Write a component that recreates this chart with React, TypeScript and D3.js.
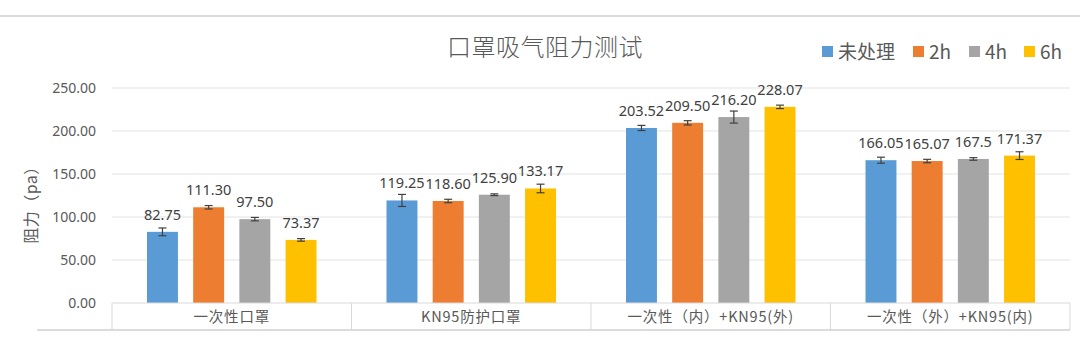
import React from "react";
import * as d3 from "d3";

const categories = ["一次性口罩", "KN95防护口罩", "一次性（内）+KN95(外)", "一次性（外）+KN95(内)"];
const seriesNames = ["未处理", "2h", "4h", "6h"];
const seriesColors = ["#5B9BD5", "#ED7D31", "#A5A5A5", "#FFC000"];
const valuesUntreated = [82.75, 119.25, 203.52, 166.05];
const values2h = [111.3, 118.6, 209.5, 165.07];
const values4h = [97.5, 125.9, 216.2, 167.5];
const values6h = [73.37, 133.17, 228.07, 171.37];
const labelsUntreated = ["82.75", "119.25", "203.52", "166.05"];
const labels2h = ["111.30", "118.60", "209.50", "165.07"];
const labels4h = ["97.50", "125.90", "216.20", "167.5"];
const labels6h = ["73.37", "133.17", "228.07", "171.37"];
const errUntreated = [4.5, 7, 3, 3.5];
const err2h = [2, 2, 2.5, 2];
const err4h = [2, 1, 7, 1.5];
const err6h = [1.5, 5, 2, 4.5];
const yTicks = [0, 50, 100, 150, 200, 250];

const series = [
  { values: valuesUntreated, labels: labelsUntreated, errs: errUntreated },
  { values: values2h, labels: labels2h, errs: err2h },
  { values: values4h, labels: labels4h, errs: err4h },
  { values: values6h, labels: labels6h, errs: err6h },
];

const FONT = "'Noto Sans', 'Noto Sans CJK SC', sans-serif";
const CJK = "'Noto Sans CJK SC', 'Noto Sans', sans-serif";

export default function App() {
  const W = 1080, H = 355;
  const left = 112, right = 1070, top = 88, bottom = 303;
  const x0 = d3.scaleBand<string>().domain(categories).range([left, right]).paddingInner(0).paddingOuter(0);
  const x1 = d3.scaleBand<number>().domain([0, 1, 2, 3]).range([35, x0.bandwidth() - 35]).paddingInner(0.33).paddingOuter(0);
  const y = d3.scaleLinear().domain([0, 250]).range([bottom, top]);
  const legendX = [822, 913, 969, 1024];

  return (
    <svg width={W} height={H} style={{ position: "absolute", left: 0, top: 0, background: "#fff" }}>
      <rect x={0} y={0} width={W} height={H} fill="#fff" />
      <line x1={0} x2={W} y1={16} y2={16} stroke="#D0D0D0" strokeWidth={1.5} />
      <text x={545} y={56} textAnchor="middle" fontFamily={CJK} fontSize={24} fontWeight={300} fill="#595959" letterSpacing={0.5}>口罩吸气阻力测试</text>
      {seriesNames.map((s, i) => (
        <g key={s}>
          <rect x={legendX[i]} y={46} width={11} height={11} fill={seriesColors[i]} />
          <text x={legendX[i] + 16} y={58.5} fontFamily={CJK} fontSize={19} fill="#595959">{s}</text>
        </g>
      ))}
      {yTicks.map((t) => (
        <g key={t}>
          {t > 0 && <line x1={left} x2={right} y1={y(t)} y2={y(t)} stroke="#E3E3E3" strokeWidth={1} />}
          <text x={96} y={y(t) + 5} textAnchor="end" fontFamily={FONT} fontSize={14} fill="#595959">{t.toFixed(2)}</text>
        </g>
      ))}
      <text transform="translate(37,201) rotate(-90)" textAnchor="middle" fontFamily={CJK} fontSize={16} fill="#595959" letterSpacing={0.5}>阻力（pa）</text>
      {categories.map((c, ci) => (
        <g key={c} transform={`translate(${x0(c)},0)`}>
          {series.map((s, si) => {
            const bx = x1(si)!;
            const bw = x1.bandwidth();
            const v = s.values[ci];
            const e = s.errs[ci];
            const cx = bx + bw / 2;
            return (
              <g key={si}>
                <rect x={bx} y={y(v)} width={bw} height={bottom - y(v)} fill={seriesColors[si]} />
                <line x1={cx} x2={cx} y1={y(v + e)} y2={y(v - e)} stroke="#404040" strokeWidth={1.2} />
                <line x1={cx - 4} x2={cx + 4} y1={y(v + e)} y2={y(v + e)} stroke="#404040" strokeWidth={1.2} />
                <line x1={cx - 4} x2={cx + 4} y1={y(v - e)} y2={y(v - e)} stroke="#404040" strokeWidth={1.2} />
                <text x={cx} y={y(v) - 12} textAnchor="middle" fontFamily={FONT} fontSize={14.5} fill="#404040">{s.labels[ci]}</text>
              </g>
            );
          })}
          <text x={x0.bandwidth() / 2} y={322} textAnchor="middle" fontFamily={CJK} fontSize={14.5} fill="#595959" letterSpacing={0.8}>{c}</text>
        </g>
      ))}
      <line x1={left} x2={right} y1={bottom} y2={bottom} stroke="#D9D9D9" strokeWidth={1} />
      {[...categories.map((c) => x0(c)!), right].map((xv, i) => (
        <line key={i} x1={xv} x2={xv} y1={bottom} y2={330} stroke="#D9D9D9" strokeWidth={1} />
      ))}
      <line x1={37} x2={right} y1={330} y2={330} stroke="#D0D0D0" strokeWidth={1.5} />
    </svg>
  );
}
